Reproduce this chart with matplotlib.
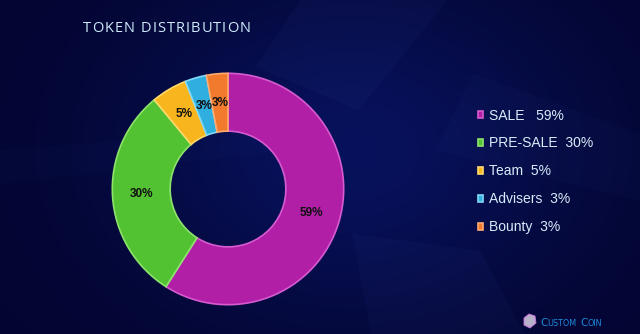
import numpy as np
import matplotlib.pyplot as plt
from matplotlib.patches import Polygon

labels = ['SALE', 'PRE-SALE', 'Team', 'Advisers', 'Bounty']
shares = [59, 30, 5, 3, 3]
legend_text = ['SALE   59%', 'PRE-SALE  30%', 'Team  5%', 'Advisers  3%', 'Bounty  3%']
colors = ['#B01FA6', '#52C132', '#F9B51E', '#2FAFE0', '#F27A2C']
edges = ['#D75BD0', '#8DE36C', '#FFD96A', '#82D8F5', '#FFAA70']

W, H = 640, 334


def fx(px):
    return px / W


def fy(py):
    return 1 - py / H


fig = plt.figure(figsize=(6.4, 3.34), dpi=100)

# dark navy backdrop
bg = fig.add_axes([0, 0, 1, 1])
yy, xx = np.mgrid[0:1:200j, 0:1:400j]
glow = np.exp(-((xx - 0.55) ** 2 / 0.12 + (yy - 0.45) ** 2 / 0.25))
dark = np.array([0.012, 0.02, 0.19])
light = np.array([0.03, 0.07, 0.36])
img = dark[None, None, :] + glow[..., None] * (light - dark)[None, None, :]
bg.imshow(img, extent=[0, 1, 0, 1], aspect='auto', origin='upper')
# faint tower silhouettes
for pts, a in [([(0.47, 1), (0.70, 1), (0.56, 0.67), (0.40, 0.80)], 0.05),
               ([(0.74, 0.78), (1.0, 0.60), (1.0, 0.40), (0.68, 0.55)], 0.04),
               ([(0.55, 0.30), (0.75, 0.25), (0.82, 0.0), (0.58, 0.0)], 0.05),
               ([(0.0, 0.55), (0.45, 0.62), (0.45, 0.55), (0.0, 0.45)], 0.03)]:
    bg.add_patch(Polygon(pts, closed=True, facecolor='#4060C0', alpha=a, edgecolor='none'))
bg.set_xlim(0, 1)
bg.set_ylim(0, 1)
bg.axis('off')

ax = fig.add_axes([fx(110), fy(307), 236 / W, 236 / H])
wedges, _ = ax.pie(shares, colors=colors, startangle=90, counterclock=False,
                   wedgeprops=dict(width=0.5, edgecolor='none'))
# bevelled rim on each segment
for w, ec in zip(wedges, edges):
    w.set_edgecolor(ec)
    w.set_linewidth(1.2)
# percentage labels at the ring middle
ang0 = 90
for s in shares:
    mid = np.deg2rad(ang0 - s * 3.6 / 2)
    ax.text(0.75 * np.cos(mid), 0.75 * np.sin(mid), f'{s}%', ha='center', va='center',
            fontsize=8.5, fontweight='bold', color='#111111', family='Liberation Sans')
    ang0 -= s * 3.6
ax.set_xlim(-1.02, 1.02)
ax.set_ylim(-1.02, 1.02)
ax.axis('off')

renderer = fig.canvas.get_renderer()

# title with letter tracking
x = 83
for ch in 'TOKEN DISTRIBUTION':
    t = fig.text(fx(x), fy(29), ch, color='#CDEBFA', fontsize=10.5, family='Open Sans',
                 va='center', ha='left')
    x += t.get_window_extent(renderer).width + 1.1

leg = fig.legend(wedges, legend_text, loc='upper left', bbox_to_anchor=(fx(465), fy(96)),
                 frameon=False, labelcolor='#D8ECFA', handlelength=0.4,
                 handleheight=0.4, handletextpad=0.45, labelspacing=1.0,
                 prop=dict(family='Liberation Sans', size=10))

# brand mark in the corner
gem = Polygon([(fx(524), fy(318)), (fx(529), fy(314)), (fx(535), fy(316)),
               (fx(536), fy(323)), (fx(530), fy(328)), (fx(524), fy(325))],
              closed=True, transform=fig.transFigure, facecolor='#B8AFC8',
              edgecolor='#D070E0', lw=0.6)
fig.patches.append(gem)
x = 540
for part, size in [('C', 7.5), ('USTOM', 5.8), (' ', 5.8), ('C', 7.5), ('OIN', 5.8)]:
    t = fig.text(fx(x), fy(325.5), part, color='#2288DD', fontsize=size, va='baseline',
                 ha='left', family='DejaVu Sans')
    x += t.get_window_extent(renderer).width + 0.3

fig.savefig('out.png', dpi=100)
